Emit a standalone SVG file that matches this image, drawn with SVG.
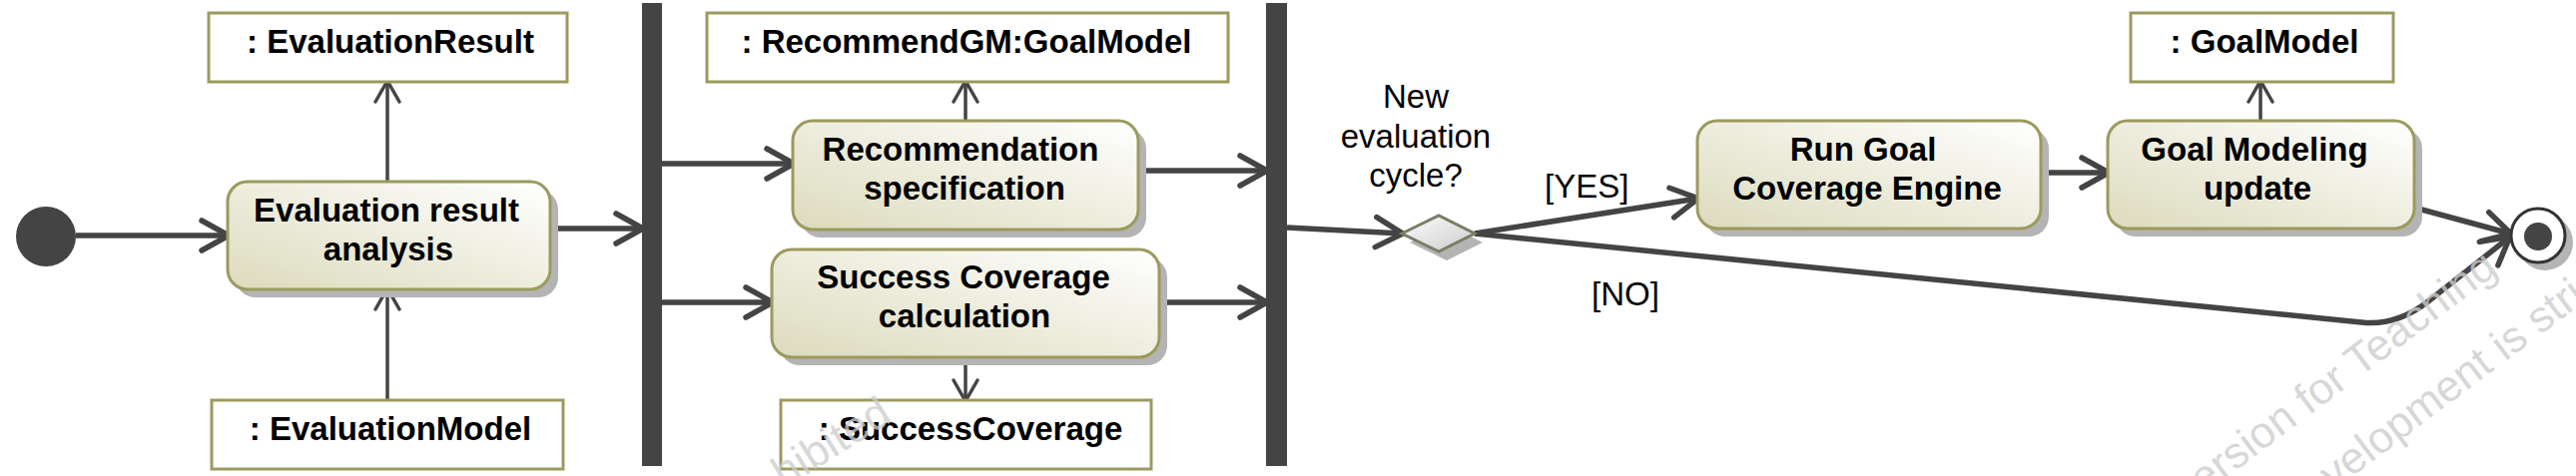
<svg xmlns="http://www.w3.org/2000/svg" width="2580" height="477" viewBox="0 0 2580 477">
<style>
.lbl{font-family:"Liberation Sans",Arial,sans-serif;font-weight:bold;font-size:33px;fill:#000;text-anchor:middle}
.reg{font-family:"Liberation Sans",Arial,sans-serif;font-size:33px;fill:#000}
.wm{font-family:"Liberation Sans",Arial,sans-serif;font-size:44px;fill:#cdcdcd;fill-opacity:0.8}
.act{fill:url(#ag);stroke:#9c9a5e;stroke-width:3}
.shd{fill:#b4b4b4}
.obj{fill:#fff;stroke:#9c9a5e;stroke-width:3}
.cf{fill:none;stroke:#444;stroke-width:5.5;marker-end:url(#ah)}
.of{fill:none;stroke:#444;stroke-width:3.5;marker-end:url(#ahs)}
.bar{fill:#444}
</style>
<defs>
<linearGradient id="ag" x1="0" y1="1" x2="1" y2="0">
<stop offset="0" stop-color="#dcdbbd"/>
<stop offset="1" stop-color="#ffffff"/>
</linearGradient>
<linearGradient id="dg" x1="0" y1="0" x2="1" y2="1">
<stop offset="0" stop-color="#fbfbfb"/>
<stop offset="1" stop-color="#cdcdcd"/>
</linearGradient>
<marker id="ah" markerUnits="userSpaceOnUse" markerWidth="40" markerHeight="40" refX="28" refY="20" orient="auto" overflow="visible">
<path d="M2,5 L29,20 L2,35" fill="none" stroke="#444" stroke-width="5.5" stroke-linecap="round" stroke-linejoin="round"/>
</marker>
<marker id="ahs" markerUnits="userSpaceOnUse" markerWidth="30" markerHeight="30" refX="21" refY="15" orient="auto" overflow="visible">
<path d="M1,3 L22,15 L1,27" fill="none" stroke="#444" stroke-width="3.5" stroke-linecap="round" stroke-linejoin="round"/>
</marker>
</defs>
<rect width="2580" height="477" fill="#fff"/>
<g id="connectors">
<path class="cf" d="M76,236 L228,236"/>
<path class="of" d="M388,182 L388,82"/>
<path class="of" d="M388,401 L388,290"/>
<path class="cf" d="M551,229 L643,229"/>
<path class="cf" d="M663,164 L794,164"/>
<path class="cf" d="M663,303 L773,303"/>
<path class="of" d="M967,121 L967,82"/>
<path class="of" d="M967,358 L967,401"/>
<path class="cf" d="M1140,171 L1268,171"/>
<path class="cf" d="M1161,303 L1268,303"/>
<path class="cf" d="M1289,228 L1404,234"/>
<path class="cf" d="M1477,234 L1700,199"/>
<path class="cf" d="M1477,234 L2365,323 Q2400,327 2432,302 L2513,238"/>
<path class="cf" d="M2044,173 L2111,173"/>
<path class="of" d="M2264,121 L2264,82"/>
<path class="cf" d="M2418,208 L2514,234"/>
<text class="reg" x="1547" y="198">[YES]</text>
<text class="reg" x="1594" y="306">[NO]</text>
</g>
<g id="initial">
<circle cx="46" cy="237" r="30" fill="#444"/>
</g>
<g id="evalResultAnalysis">
<rect class="shd" x="236" y="190" width="323" height="108" rx="20"/>
<rect class="act" x="228" y="182" width="323" height="108" rx="20"/>
<text class="lbl" x="387" y="222">Evaluation result</text>
<text class="lbl" x="389" y="261">analysis</text>
</g>
<g id="evaluationResult">
<rect class="obj" x="209" y="13" width="359" height="69"/>
<text class="lbl" x="391" y="53">: EvaluationResult</text>
</g>
<g id="evaluationModel">
<rect class="obj" x="212" y="401" width="352" height="69"/>
<text class="lbl" x="391" y="441">: EvaluationModel</text>
</g>
<g id="fork">
<rect class="bar" x="643" y="3" width="20" height="464"/>
</g>
<g id="recommendationSpec">
<rect class="shd" x="802" y="129" width="346" height="109" rx="20"/>
<rect class="act" x="794" y="121" width="346" height="109" rx="20"/>
<text class="lbl" x="962" y="161">Recommendation</text>
<text class="lbl" x="966" y="200">specification</text>
</g>
<g id="recommendGM">
<rect class="obj" x="708" y="13" width="522" height="69"/>
<text class="lbl" x="968" y="53">: RecommendGM:GoalModel</text>
</g>
<g id="successCoverageCalc">
<rect class="shd" x="781" y="258" width="388" height="108" rx="20"/>
<rect class="act" x="773" y="250" width="388" height="108" rx="20"/>
<text class="lbl" x="965" y="289">Success Coverage</text>
<text class="lbl" x="966" y="328">calculation</text>
</g>
<g id="successCoverage">
<rect class="obj" x="782" y="401" width="371" height="69"/>
<text class="lbl" x="972" y="441">: SuccessCoverage</text>
</g>
<g id="join">
<rect class="bar" x="1268" y="3" width="21" height="464"/>
</g>
<g id="decision">
<polygon class="shd" points="1412,243 1449,225 1485,243 1449,261"/>
<polygon points="1404,234 1441,216 1477,234 1441,252" fill="url(#dg)" stroke="#7d7d66" stroke-width="3"/>
<text class="reg" x="1418" y="108" text-anchor="middle">New</text>
<text class="reg" x="1418" y="148" text-anchor="middle">evaluation</text>
<text class="reg" x="1418" y="187" text-anchor="middle">cycle?</text>
</g>
<g id="runGoalCoverage">
<rect class="shd" x="1708" y="129" width="344" height="108" rx="20"/>
<rect class="act" x="1700" y="121" width="344" height="108" rx="20"/>
<text class="lbl" x="1866" y="161">Run Goal</text>
<text class="lbl" x="1870" y="200">Coverage Engine</text>
</g>
<g id="goalModelingUpdate">
<rect class="shd" x="2119" y="129" width="307" height="108" rx="20"/>
<rect class="act" x="2111" y="121" width="307" height="108" rx="20"/>
<text class="lbl" x="2258" y="161">Goal Modeling</text>
<text class="lbl" x="2261" y="200">update</text>
</g>
<g id="goalModel">
<rect class="obj" x="2134" y="13" width="263" height="69"/>
<text class="lbl" x="2268" y="53">: GoalModel</text>
</g>
<g id="final">
<circle cx="2549" cy="243" r="28" fill="#b4b4b4"/>
<circle cx="2542" cy="236" r="27" fill="#fff" stroke="#333" stroke-width="3"/>
<circle cx="2542" cy="237" r="14" fill="#444"/>
</g>
<g id="watermark">
<text class="wm" transform="translate(2207,496) rotate(-37)">ersion for Teaching</text>
<text class="wm" transform="translate(2337,492) rotate(-37)">velopment is strictly</text>
<text class="wm" transform="translate(785,490) rotate(-32)" font-size="42">hibited</text>
</g>
</svg>
